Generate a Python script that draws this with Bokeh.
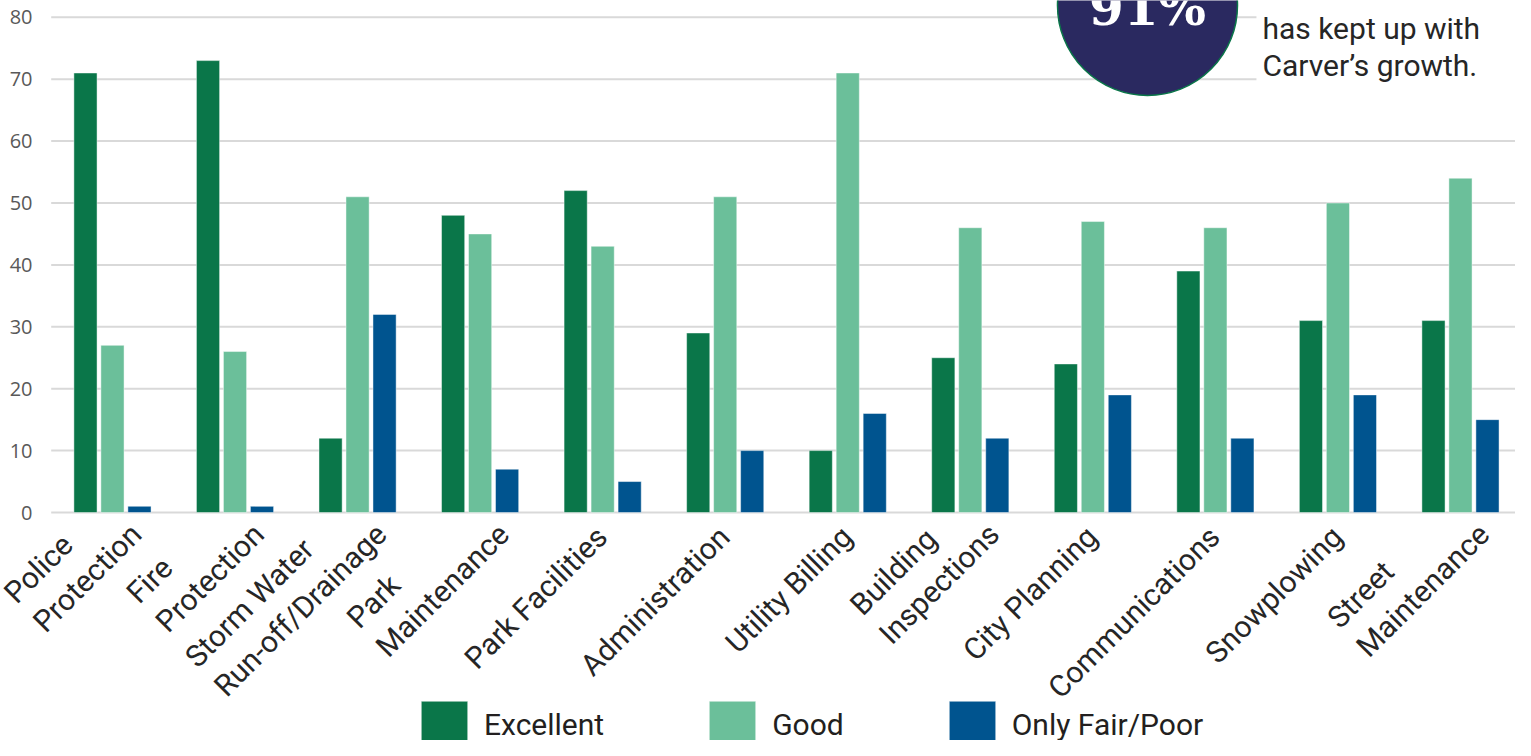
import math
from bokeh.plotting import figure
from bokeh.models import (Range1d, Legend, LegendItem, ColumnDataSource, BoxAnnotation, Label)
from bokeh.transform import dodge
from bokeh.core.properties import value
from bokeh.embed import file_html
from bokeh.resources import INLINE

# ---------------- data ----------------
categories = ["Police\nProtection", "Fire\nProtection", "Storm Water\nRun-off/Drainage",
              "Park\nMaintenance", "Park Facilities", "Administration", "Utility Billing",
              "Building\nInspections", "City Planning", "Communications", "Snowplowing",
              "Street\nMaintenance"]
excellent = [71, 73, 12, 48, 52, 29, 10, 25, 24, 39, 31, 31]
good = [27, 26, 51, 45, 43, 51, 71, 46, 47, 46, 50, 54]
fair_poor = [1, 1, 32, 7, 5, 10, 16, 12, 19, 12, 19, 15]
series_names = ["Excellent", "Good", "Only Fair/Poor"]
y_ticks = [0, 10, 20, 30, 40, 50, 60, 70, 80]
callout_value = "91%"
callout_lines = ["has kept up with", "Carver\u2019s growth."]

# ---------------- style ----------------
colors = ["#0a7649", "#6bbf9a", "#00548f"]
FONT = "Roboto"
GRID = "#d9d9d9"

# category slots: slot i spans [i, i+1]; group centre at i + 0.5
n = len(categories)
pos = [i + 0.5 for i in range(n)]
X0, X1 = -0.4137, 11.949  # visible window (first slot starts ~51px from the left)

src = ColumnDataSource(dict(pos=pos, excellent=excellent, good=good, fair=fair_poor))

p = figure(width=1515, height=740,
           x_range=Range1d(X0, X1), y_range=Range1d(-36.83, 82.71),
           x_axis_location=None, y_axis_location=None,
           min_border_left=0, min_border_right=0, min_border_top=0, min_border_bottom=0,
           toolbar_location=None, output_backend="svg", outline_line_color=None)
p.grid.visible = False

# horizontal gridlines (start at the first category slot)
p.segment(x0=[0] * len(y_ticks), x1=[n] * len(y_ticks), y0=y_ticks, y1=y_ticks,
          line_color=GRID, line_width=2)

# y tick labels
p.text(x=[-0.1526] * len(y_ticks), y=y_ticks, text=[str(t) for t in y_ticks],
       text_align="right", text_baseline="middle", text_font=value("Open Sans"),
       text_font_size="20px", text_color="#595959")

# bars
w = 0.189
offs = [-0.2203, 0.0, 0.2203]
fields = ["excellent", "good", "fair"]
renderers = []
for f, o, c in zip(fields, offs, colors):
    r = p.vbar(x=dodge("pos", o), top=f, bottom=0, width=w, source=src,
               fill_color=c, line_color="white", line_alpha=0.45, line_width=1)
    renderers.append(r)

# category labels (rotated, multi-line, lines left-aligned)
nlines = [c.count("\n") + 1 for c in categories]
lab_src = ColumnDataSource(dict(
    x=pos, y=[0] * n, text=categories,
    xo=[9 if k > 1 else -1 for k in nlines],
    yo=[2 if k > 1 else 19 for k in nlines]))
p.text(x="x", y="y", text="text", source=lab_src, angle=math.pi / 4,
       anchor="center_right", text_align="left", x_offset="xo", y_offset="yo",
       text_font=value(FONT), text_font_size="30px", text_line_height=1.17,
       text_color="#262626")

# legend
legend = Legend(items=[LegendItem(label=s, renderers=[r]) for s, r in zip(series_names, renderers)],
                location=(415, -13), orientation="horizontal",
                glyph_width=58, glyph_height=58, label_standoff=11, spacing=99,
                padding=0, margin=0, border_line_alpha=0, background_fill_alpha=0,
                label_text_font=FONT, label_text_font_size="30px",
                label_text_color="#231f20")
p.add_layout(legend)

# call-out (top right)
p.add_layout(BoxAnnotation(left=9.835, bottom=64, fill_color="white", fill_alpha=1,
                           line_alpha=0))
p.circle(x=[8.946], y=[81.91], radius=90, radius_units="screen",
         fill_color="#2a2960", line_color="#0a7649", line_width=1.5)
p.text(x=[8.946], y=[81.63], text=[callout_value], text_align="center",
       text_baseline="middle", text_color="white",
       text_font=value("DejaVu Serif"), text_font_style="bold", text_font_size="50px")
for txt, yv in zip(callout_lines, [78.25, 72.27]):
    p.add_layout(Label(x=9.884, y=yv, text=txt, text_baseline="middle",
                       text_font=FONT, text_font_size="30px", text_color="#262626"))

open("out.html", "w").write(file_html(p, INLINE))
